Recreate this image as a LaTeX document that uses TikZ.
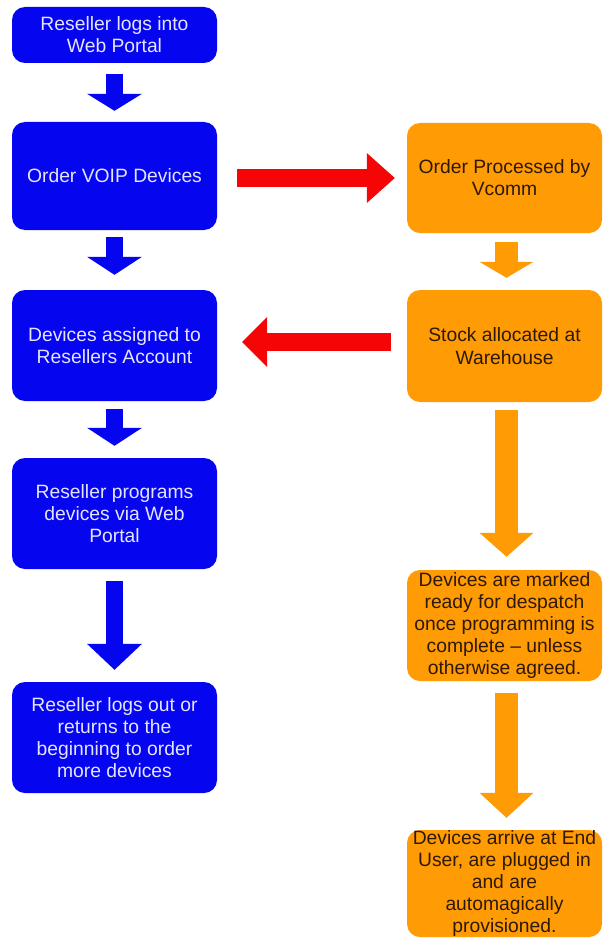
\documentclass[tikz,border=0pt]{standalone}
\usepackage{fontspec}
\setmainfont{Liberation Sans}
\usepackage{tikz}
\usetikzlibrary{positioning}
\usetikzlibrary{calc, arrows.meta}

\definecolor{portalblue}{RGB}{5,5,240}
\definecolor{vcommorange}{RGB}{255,155,5}
\definecolor{crossred}{RGB}{245,5,5}
\definecolor{paletext}{RGB}{228,228,255}
\definecolor{darktext}{RGB}{45,25,5}

\begin{document}
\begin{tikzpicture}[x=1pt, y=-1pt,
        box/.style={rounded corners=13pt, align=center, inner sep=0pt,
            font=\fontsize{19.3}{22.2}\selectfont},
        resbox/.style={box, fill=portalblue, text=paletext,
            minimum width=205pt},
        vcbox/.style={box, fill=vcommorange, text=darktext,
            minimum width=195pt},
        downblue/.style={portalblue, line width=17pt,
            -{Triangle[width=55pt, length=#1, line width=0pt]}},
        downorange/.style={vcommorange, line width=23pt,
            -{Triangle[width=54pt, length=#1, line width=0pt]}},
        across/.style={crossred, line width=18pt,
            -{Triangle[width=50pt, length=#1, line width=0pt]}}]
        \useasboundingbox (0,0) rectangle (603,939);
        % Reseller side
        \node[resbox, minimum height=56pt] (login) at (114.5,35) {Reseller logs into\\Web Portal};
        \node[resbox, minimum height=108pt] (order) at (114.5,176) {Order VOIP Devices};
        \node[resbox, minimum height=111pt] (assign) at (114.5,345.5) {Devices assigned to\\Resellers Account};
        \node[resbox, minimum height=111pt] (program) at (114.5,513.5) {Reseller programs\\devices via Web\\Portal};
        \node[resbox, minimum height=111pt] (logout) at (114.5,737.5) {Reseller logs out or\\returns to the\\beginning to order\\more devices};
        % Vcomm side
        \node[vcbox, minimum height=110pt] (process) at (504.5,178) {Order Processed by\\Vcomm};
        \node[vcbox, minimum height=112pt] (stock) at (504.5,346) {Stock allocated at\\Warehouse};
        \node[vcbox, minimum height=111pt] (marked) at (504.5,625.5) {Devices are marked\\ready for despatch\\once programming is\\complete -- unless\\otherwise agreed.};
        \node[vcbox, minimum height=107pt] (arrive) at (504.5,883.5) {Devices arrive at End\\User, are plugged in\\and are\\automagically\\provisioned.};
        % blue arrows
        \draw[downblue=17pt, shorten <=11pt, shorten >=11pt] (login) -- (order);
        \draw[downblue=18pt, shorten <=7pt, shorten >=15pt] (order) -- (assign);
        \draw[downblue=18pt, shorten <=8pt, shorten >=12pt] (assign) -- (program);
        \draw[downblue=26pt, shorten <=12pt, shorten >=12pt] (program) -- (logout);
        % orange arrows
        \draw[downorange=16pt, shorten <=9pt, shorten >=12pt] ([xshift=2pt]process.south) -- ([xshift=2pt]stock.north);
        \draw[downorange=24pt, shorten <=8pt, shorten >=13pt] ([xshift=2pt]stock.south) -- ([xshift=2pt]marked.north);
        \draw[downorange=25pt, shorten <=12pt, shorten >=12pt] ([xshift=2pt]marked.south) -- ([xshift=2pt]arrive.north);
        % red arrows
        \draw[across=28pt, shorten <=20pt, shorten >=12pt] (order.east |- process) -- (process.west);
        \draw[across=25pt, shorten <=16pt, shorten >=25pt] ([yshift=4pt]stock.west) -- ([yshift=4pt]stock.west -| assign.east);
    \end{tikzpicture}
\end{document}
